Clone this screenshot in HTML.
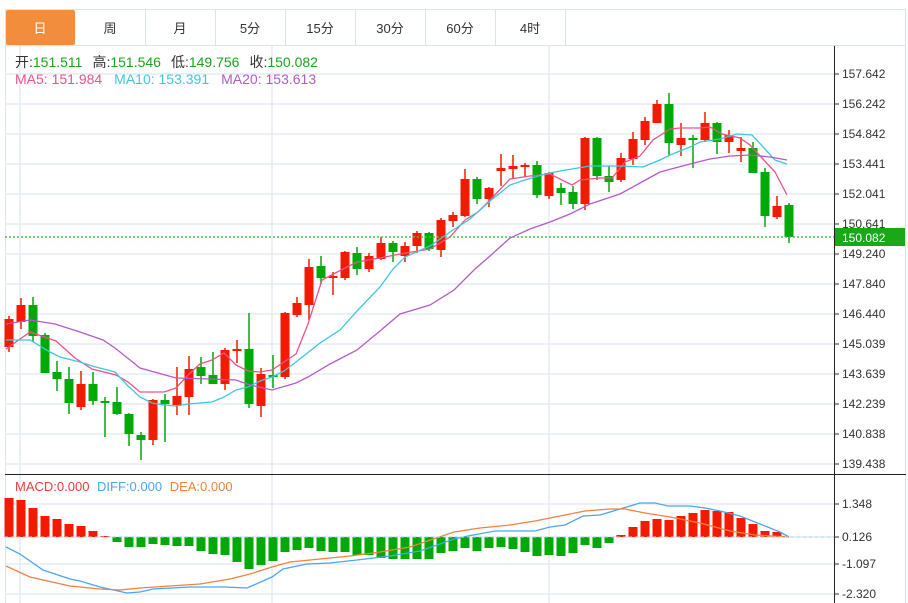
<!DOCTYPE html>
<html><head><meta charset="utf-8"><style>
body{margin:0;background:#fff;width:908px;height:603px;overflow:hidden;font-family:"Liberation Sans","Noto Sans CJK SC",sans-serif}
svg{position:absolute;left:0;top:0}
</style></head><body>
<svg id="s" width="908" height="603" xmlns="http://www.w3.org/2000/svg" font-family="Liberation Sans, Noto Sans CJK SC, sans-serif">
<rect x="5.5" y="9.5" width="900" height="600" fill="none" stroke="#dde3ea"/>
<g id="grid" stroke="#e3ecf3" stroke-width="1.5"></g>
<line x1="5" y1="45.5" x2="906" y2="45.5" stroke="#dde3ea"/>
<g font-size="13" text-anchor="middle">
<rect x="6" y="10" width="69" height="35" fill="#f28d3e" rx="2"/>
<text x="40" y="33" fill="#fff">日</text>
<line x1="145.5" y1="10" x2="145.5" y2="45" stroke="#dde3ea"/><text x="110" y="33" fill="#333">周</text>
<line x1="215.5" y1="10" x2="215.5" y2="45" stroke="#dde3ea"/><text x="180" y="33" fill="#333">月</text>
<line x1="285.5" y1="10" x2="285.5" y2="45" stroke="#dde3ea"/><text x="250" y="33" fill="#333">5分</text>
<line x1="355.5" y1="10" x2="355.5" y2="45" stroke="#dde3ea"/><text x="320" y="33" fill="#333">15分</text>
<line x1="425.5" y1="10" x2="425.5" y2="45" stroke="#dde3ea"/><text x="390" y="33" fill="#333">30分</text>
<line x1="495.5" y1="10" x2="495.5" y2="45" stroke="#dde3ea"/><text x="460" y="33" fill="#333">60分</text>
<line x1="565.5" y1="10" x2="565.5" y2="45" stroke="#dde3ea"/><text x="530" y="33" fill="#333">4时</text>
</g>
<g font-size="14">
<text x="15" y="67" fill="#333">开:<tspan fill="#1aa51a">151.511</tspan><tspan dx="10">高:</tspan><tspan fill="#1aa51a">151.546</tspan><tspan dx="10">低:</tspan><tspan fill="#1aa51a">149.756</tspan><tspan dx="10">收:</tspan><tspan fill="#1aa51a">150.082</tspan></text>
<text x="15" y="84" fill="#f0508a">MA5: 151.984<tspan fill="#3cc8dc" dx="12">MA10: 153.391</tspan><tspan fill="#b45ac8" dx="12">MA20: 153.613</tspan></text>
</g>
<g font-size="13">
<text x="15" y="491" fill="#f03c3c">MACD:0.000 <tspan fill="#4aa6ee" dx="4">DIFF:0.000</tspan> <tspan fill="#f0823c" dx="4">DEA:0.000</tspan></text>
</g>
<g id="c"></g>
<line x1="5" y1="474.5" x2="906" y2="474.5" stroke="#222"/>
<line x1="834.5" y1="46" x2="834.5" y2="603" stroke="#222"/>
<line x1="5" y1="237" x2="834" y2="237" stroke="#4cc04c" stroke-dasharray="2,2" stroke-width="1.5"/>
<line x1="5" y1="537" x2="834" y2="537" stroke="#a8d8ee" stroke-dasharray="3,3"/>
<g id="ax" font-size="12" fill="#333"></g>
<rect x="835" y="228" width="70" height="18" fill="#18a818"/>
<text x="842" y="242" font-size="12" fill="#fff">150.082</text>
</svg>
<script>
var NS="http://www.w3.org/2000/svg";
function el(p,t,a){var e=document.createElementNS(NS,t);for(var k in a)e.setAttribute(k,a[k]);document.getElementById(p).appendChild(e);return e;}
var labs=["157.642","156.242","154.842","153.441","152.041","150.641","149.240","147.840","146.440","145.039","143.639","142.239","140.838","139.438"];
for(var k=0;k<14;k++){var y=74+30*k;el("grid","line",{x1:5,x2:834,y1:y,y2:y});el("ax","line",{x1:834,x2:839,y1:y,y2:y,stroke:"#333"});var t=el("ax","text",{x:842,y:y+4});t.textContent=labs[k];}
[20,272,549].forEach(function(x){el("grid","line",{x1:x,x2:x,y1:46,y2:603});});
[[504,"1.348"],[537,"0.126"],[564,"-1.097"],[594,"-2.320"]].forEach(function(a){el("grid","line",{x1:5,x2:834,y1:a[0],y2:a[0]});el("ax","line",{x1:834,x2:839,y1:a[0],y2:a[0],stroke:"#333"});var t=el("ax","text",{x:842,y:a[0]+4});t.textContent=a[1];});
var R="#f41a00",G="#00a80a";
var C=[[1,319,347,316,352],[1,305,322,298,329],[0,305,336,297,342],[0,335,373,333,373],[0,372,379,361,391],[0,379,403,367,414],[1,384,407,371,410],[0,384,401,372,405],[0,401,403,397,437],[0,402,414,387,415],[0,414,434,413,446],[0,435,440,432,460],[1,400,440,399,445],[0,400,404,394,442],[1,396,405,367,415],[1,369,397,356,415],[0,367,376,357,384],[0,375,384,352,384],[1,350,384,348,390],[1,349,351,340,363],[0,349,404,313,408],[1,374,406,368,417],[0,375,377,355,388],[1,313,377,312,379],[1,303,315,297,317],[1,267,305,259,320],[0,266,278,256,284],[1,276,278,272,295],[1,252,278,251,280],[0,253,269,247,275],[1,256,269,253,272],[1,243,259,237,260],[0,243,252,241,262],[1,246,256,242,262],[1,233,246,231,253],[0,233,249,232,251],[1,220,250,218,257],[1,215,221,212,227],[1,179,216,169,217],[0,179,199,177,204],[1,188,199,187,207],[1,168,171,154,186],[1,166,169,155,179],[1,165,167,163,177],[0,165,195,161,198],[1,173,196,172,199],[0,188,193,183,205],[0,192,204,186,209],[1,138,204,137,210],[0,138,176,137,180],[0,176,182,166,192],[1,158,180,153,182],[1,139,159,132,165],[1,121,140,117,145],[1,104,123,100,123],[0,104,143,93,155],[1,138,145,123,156],[0,138,140,135,168],[1,123,140,112,142],[0,123,142,122,154],[1,135,142,130,153],[1,148,151,137,162],[0,148,173,142,173],[0,172,216,168,227],[1,206,217,196,219],[0,205,237,203,243]];
C.forEach(function(c,i){var x=9+12*i,col=c[0]?R:G;el("c","line",{x1:x,x2:x,y1:c[3],y2:c[4],stroke:col,"stroke-width":1.5});el("c","rect",{x:x-4.5,y:c[1],width:9,height:Math.max(1.5,c[2]-c[1]),fill:col});});
var H=[498,500,508,516,519,524,526,531,536,542,547,547,544,545,546,546,551,554,555,562,569,565,561,552,550,548,551,552,552,555,555,558,559,559,559,559,553,551,548,551,548,547,549,552,556,555,556,553,545,548,543,535,527,521,519,520,516,513,510,511,512,518,524,531,532,537];
H.forEach(function(y,i){var x=9+12*i;var top=Math.min(y,537),h=Math.abs(y-537);if(h<1)return;el("c","rect",{x:x-4.5,y:top,width:9,height:h,fill:y<537?R:G});});
function pl(pts,col){el("c","polyline",{points:pts,fill:"none",stroke:col,"stroke-width":1.3});}
pl("6,349 30,332 56,341 75,358 92,369 116,375 128,382 140,392 164,392 176,388 188,375 200,364 212,360 224,353 236,365 248,371 260,372 272,370 296,354 308,324 322,280 345,268 357,262 380,258 400,254 430,249 450,237 465,220 478,212 490,200 510,179 530,176 550,174 572,185 580,180 600,178 612,178 625,162 640,156 653,140 670,129 680,128 700,128 710,127 722,134 740,138 750,145 762,158 775,172 787,195","#f0508a");
pl("6,340 30,340 50,352 60,357 80,362 92,366 115,372 128,386 140,397 152,403 164,405 176,406 188,404 212,402 224,397 236,390 248,387 260,381 272,377 284,371 296,362 320,343 340,330 357,311 380,287 393,269 405,257 430,246 450,232 470,219 490,201 510,185 525,180 545,174 560,171 590,166 620,166 643,167 660,160 670,155 690,147 700,142 720,139 737,134 752,135 765,149 775,160 787,164","#3cc8dc");
pl("6,324 30,320 55,324 80,332 103,340 115,348 140,368 176,378 210,379 236,380 250,385 272,390 296,383 308,377 330,364 357,350 380,331 400,314 430,305 454,290 475,269 490,256 510,238 530,229 550,222 570,214 590,204 620,194 640,183 660,172 690,164 710,159 730,156 750,155 770,157 787,160","#b45ac8");
pl("6,547 20,554 43,570 70,579 80,581 100,587 127,593 140,592 153,589 190,587 225,587 247,588 272,577 283,569 307,564 330,563 357,560 390,556 420,551 454,539 468,536 495,531 535,531 550,527 565,525 583,516 600,515 620,509 640,503 655,503 668,506 690,506 705,508 720,511 740,516 760,524 780,532 789,537","#4aa6ee");
pl("6,566 30,577 70,586 100,589 120,590 140,588 170,586 200,584 230,579 250,574 272,567 290,562 320,559 350,556 380,552 410,547 454,532 480,528 510,525 535,521 560,516 585,511 610,509 625,509 645,513 670,517 700,523 730,531 755,535 789,537","#f0823c");
</script>
</body></html>
